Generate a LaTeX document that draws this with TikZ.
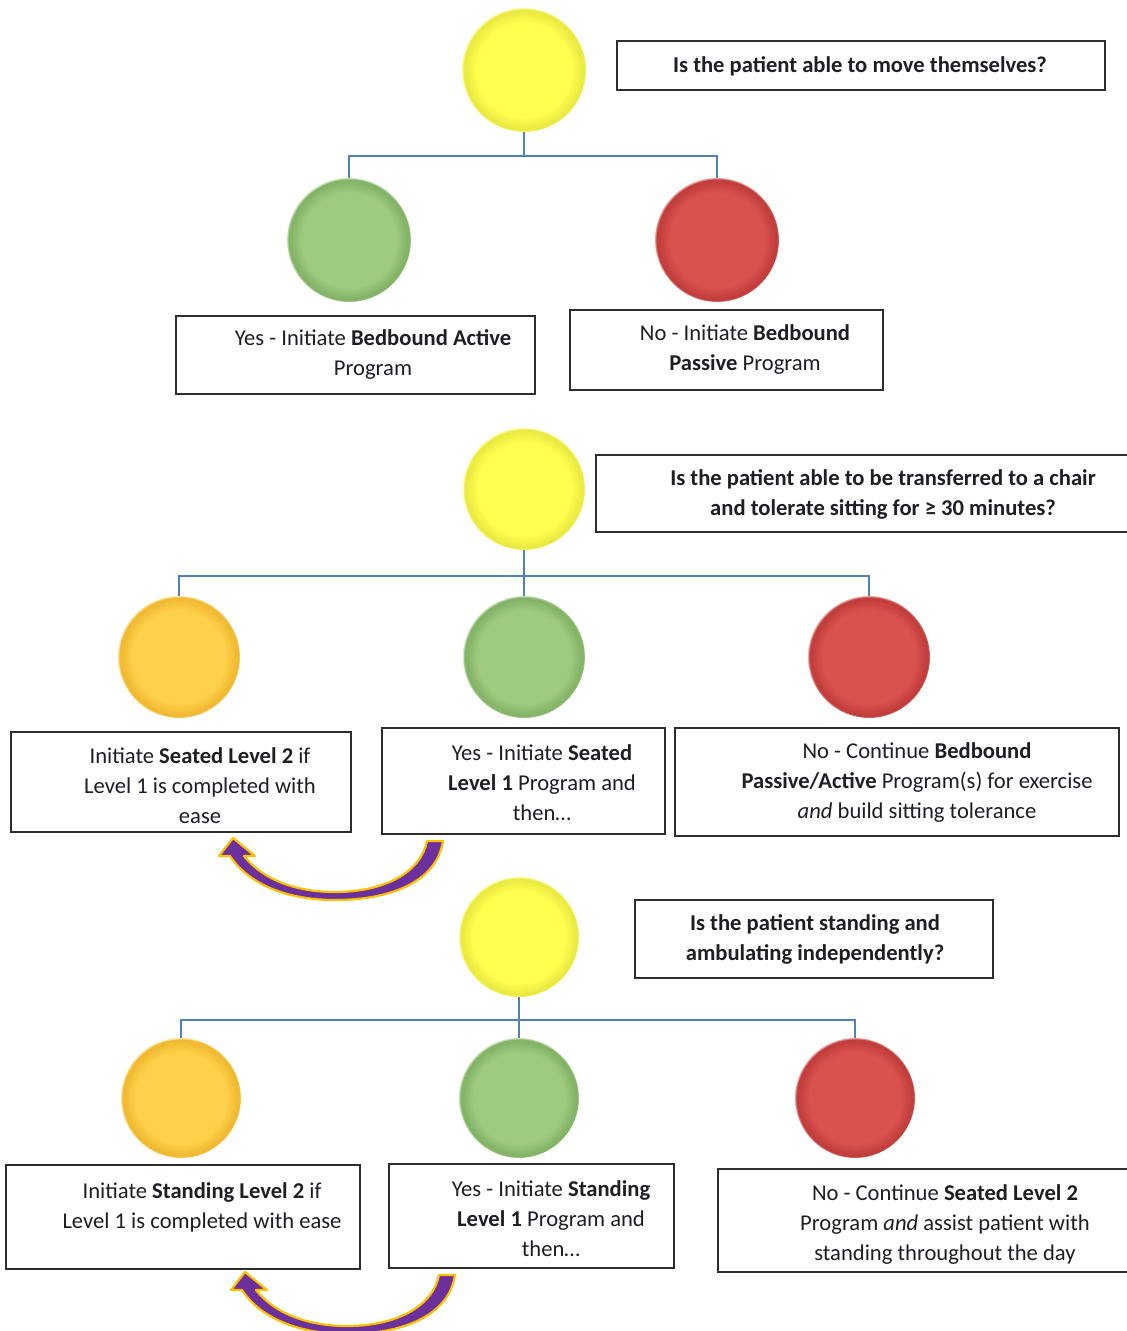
\documentclass[tikz,border=0pt]{standalone}
\usepackage{fontspec}
\setmainfont{Carlito}
\usetikzlibrary{calc}
\definecolor{yc}{RGB}{255,255,80}
\definecolor{yd}{RGB}{234,234,66}
\definecolor{gc}{RGB}{158,203,128}
\definecolor{gd}{RGB}{132,180,104}
\definecolor{rc}{RGB}{218,82,78}
\definecolor{rd}{RGB}{194,62,60}
\definecolor{oc}{RGB}{255,208,74}
\definecolor{od}{RGB}{240,186,50}
\definecolor{treec}{RGB}{79,129,189}
\definecolor{textc}{RGB}{30,30,36}
\definecolor{arrp}{RGB}{108,48,156}
\definecolor{arrg}{RGB}{255,192,0}
\pgfdeclareradialshading{ballY}{\pgfpoint{0bp}{0bp}}{color(0bp)=(yc); color(19bp)=(yc); color(23.5bp)=(yd); color(24.5bp)=(yd); color(25bp)=(yc!45!white); color(50bp)=(white)}
\pgfdeclareradialshading{ballG}{\pgfpoint{0bp}{0bp}}{color(0bp)=(gc); color(19bp)=(gc); color(23.5bp)=(gd); color(24.5bp)=(gd); color(25bp)=(gc!45!white); color(50bp)=(white)}
\pgfdeclareradialshading{ballR}{\pgfpoint{0bp}{0bp}}{color(0bp)=(rc); color(19bp)=(rc); color(23.5bp)=(rd); color(24.5bp)=(rd); color(25bp)=(rc!45!white); color(50bp)=(white)}
\pgfdeclareradialshading{ballO}{\pgfpoint{0bp}{0bp}}{color(0bp)=(oc); color(19bp)=(oc); color(23.5bp)=(od); color(24.5bp)=(od); color(25bp)=(oc!45!white); color(50bp)=(white)}
\tikzset{
  ball/.style={circle, inner sep=0pt, minimum size=#1, shade},
  yball/.style={ball=#1, shading=ballY},
  gball/.style={ball=#1, shading=ballG},
  rball/.style={ball=#1, shading=ballR},
  oball/.style={ball=#1, shading=ballO},
  box/.style={draw=black!82, line width=1.6pt, fill=white, inner sep=0pt},
  txt/.style={align=center, font=\fontsize{22.6}{30}\selectfont, text=textc, inner sep=0pt},
  tree/.style={draw=treec, line width=1.8pt},
  curvarrow/.style={fill=arrp, draw=arrg, line width=2.2pt, line join=round}
}
\newcommand{\loopback}[1]{%
  \path[curvarrow, shift={#1}] (233,838) -- (255,856) -- (244,856)
    .. controls (265,882) and (300,892) .. (335,892)
    .. controls (385,892) and (421,872) .. (427,841)
    -- (443,841)
    .. controls (437,881) and (392,900) .. (335,900)
    .. controls (290,900) and (250,886) .. (230,856)
    -- (219,856) -- cycle;}
\begin{document}
\begin{tikzpicture}[x=1pt,y=-1pt]
\useasboundingbox (0,0) rectangle (1127,1331);
\fill[white] (0,0) rectangle (1127,1331);

% ---------- Section 1 ----------
\node[yball=124pt] (y1) at (524,70) {};
\node[gball=124pt] (g1) at (349,240) {};
\node[rball=124pt] (r1) at (717,240) {};
\coordinate (b1) at (524,156);
\draw[tree] (y1.south) -- (b1);
\draw[tree] (b1) -| (g1.north);
\draw[tree] (b1) -| (r1.north);

\node[box, minimum width=488pt, minimum height=49pt] (q1box) at (861,65.5) {};
\node[txt] (q1) at (860,66) {\textbf{Is the patient able to move themselves?}};
\node[box, minimum width=359pt, minimum height=78pt] (a1box) at (355.5,355) {};
\node[txt] (a1) at (373,354) {Yes - Initiate \textbf{Bedbound Active}\\Program};
\node[box, minimum width=313pt, minimum height=80pt] (c1box) at (726.5,350) {};
\node[txt] (c1) at (745,350) {No - Initiate \textbf{Bedbound}\\\textbf{Passive} Program};

% ---------- Section 2 ----------
\node[yball=122pt] (y2) at (524,489) {};
\node[oball=122pt] (o2) at (179,657) {};
\node[gball=122pt] (g2) at (524,657) {};
\node[rball=122pt] (r2) at (869,657) {};
\coordinate (b2) at (524,576);
\draw[tree] (y2.south) -- (b2) -- (g2.north);
\draw[tree] (b2) -| (o2.north);
\draw[tree] (b2) -| (r2.north);

\node[box, minimum width=539pt, minimum height=77pt] (q2box) at (865.5,493.5) {};
\node[txt] (q2) at (883,494) {\textbf{Is the patient able to be transferred to a chair}\\\textbf{and tolerate sitting for ≥ 30 minutes?}};
\node[box, minimum width=340pt, minimum height=100pt] (a2box) at (181,782) {};
\node[txt] (a2) at (200,786) {Initiate \textbf{Seated Level 2} if\\Level 1 is completed with\\ease};
\node[box, minimum width=283pt, minimum height=106pt] (b2box) at (523.5,781) {};
\node[txt] (bt2) at (542,783) {Yes - Initiate \textbf{Seated}\\\textbf{Level 1} Program and\\then…};
\node[box, minimum width=444pt, minimum height=108pt] (c2box) at (897,782) {};
\node[txt] (c2) at (917,783) {No - Continue \textbf{Bedbound}\\\textbf{Passive/Active} Program(s) for exercise\\\textit{and} build sitting tolerance};
\loopback{(0,0)}

% ---------- Section 3 ----------
\node[yball=120pt] (y3) at (519,937) {};
\node[oball=120pt] (o3) at (181,1098) {};
\node[gball=120pt] (g3) at (519,1098) {};
\node[rball=120pt] (r3) at (855,1098) {};
\coordinate (b3) at (519,1020);
\draw[tree] (y3.south) -- (b3) -- (g3.north);
\draw[tree] (b3) -| (o3.north);
\draw[tree] (b3) -| (r3.north);

\node[box, minimum width=358pt, minimum height=78pt] (q3box) at (814,939) {};
\node[txt] (q3) at (815,939) {\textbf{Is the patient standing and}\\\textbf{ambulating independently?}};
\node[box, minimum width=354pt, minimum height=104pt] (a3box) at (183,1217) {};
\node[txt] (a3) at (202,1207) {Initiate \textbf{Standing Level 2} if\\Level 1 is completed with ease};
\node[box, minimum width=285pt, minimum height=104pt] (bb3box) at (531.5,1216) {};
\node[txt] (bt3) at (551,1219) {Yes - Initiate \textbf{Standing}\\\textbf{Level 1} Program and\\then…};
\node[box, minimum width=417pt, minimum height=103pt] (c3box) at (926.5,1220.5) {};
\node[txt] (c3) at (945,1224) {No - Continue \textbf{Seated Level 2}\\Program \textit{and} assist patient with\\standing throughout the day};
\loopback{(12,434)}
\end{tikzpicture}
\end{document}
